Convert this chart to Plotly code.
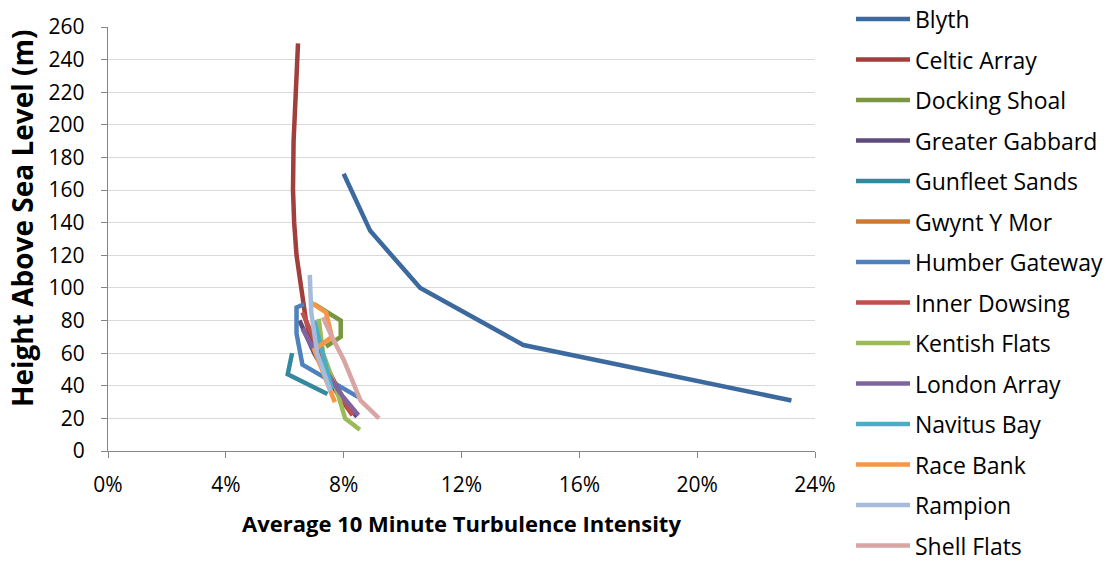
import plotly.graph_objects as go

# Turbulence intensity (fraction) vs height (m) per site
blyth_ti = [0.080, 0.089, 0.106, 0.141, 0.232]
blyth_h = [170, 135, 100, 65, 31]

celtic_ti = [0.0645, 0.0637, 0.0630, 0.0628, 0.0632, 0.0640, 0.0655, 0.0672, 0.0695, 0.0730, 0.0780, 0.0830]
celtic_h = [250, 220, 190, 160, 140, 120, 100, 80, 65, 50, 35, 22]

docking_ti = [0.0700, 0.0790, 0.0790, 0.0740]
docking_h = [90, 80, 70, 64]

gabbard_ti = [0.0650, 0.0700, 0.0770, 0.0845]
gabbard_h = [80, 60, 38, 21]

gunfleet_ti = [0.0625, 0.0610, 0.0745]
gunfleet_h = [60, 47, 35]

gwynt_ti = [0.0690, 0.0740, 0.0800]
gwynt_h = [75, 52, 32]

humber_ti = [0.0665, 0.0640, 0.0640, 0.0660, 0.0850]
humber_h = [90, 88, 72, 53, 33]

inner_ti = [0.0660, 0.0720, 0.0780, 0.0830]
inner_h = [85, 60, 38, 22]

kentish_ti = [0.0715, 0.0730, 0.0780, 0.0805, 0.0855]
kentish_h = [81, 60, 35, 20, 13]

london_ti = [0.0660, 0.0730, 0.0790, 0.0850]
london_h = [75, 52, 35, 22]

navitus_ti = [0.0700, 0.0730, 0.0760]
navitus_h = [80, 58, 38]

race_ti = [0.0690, 0.0740, 0.0760, 0.0700, 0.0770]
race_h = [91, 85, 70, 62, 30]

rampion_ti = [0.0685, 0.0690, 0.0710, 0.0755]
rampion_h = [108, 85, 60, 37]

shell_ti = [0.0730, 0.0760, 0.0800, 0.0857, 0.0920]
shell_h = [82, 70, 56, 31, 20]

series = [
    ("Blyth", blyth_ti, blyth_h, "#3C6A9E"),
    ("Celtic Array", celtic_ti, celtic_h, "#A13F3C"),
    ("Docking Shoal", docking_ti, docking_h, "#7A9740"),
    ("Greater Gabbard", gabbard_ti, gabbard_h, "#604A7B"),
    ("Gunfleet Sands", gunfleet_ti, gunfleet_h, "#35899E"),
    ("Gwynt Y Mor", gwynt_ti, gwynt_h, "#CC7A33"),
    ("Humber Gateway", humber_ti, humber_h, "#4F81BD"),
    ("Inner Dowsing", inner_ti, inner_h, "#C0504D"),
    ("Kentish Flats", kentish_ti, kentish_h, "#9BBB59"),
    ("London Array", london_ti, london_h, "#8064A2"),
    ("Navitus Bay", navitus_ti, navitus_h, "#4BACC6"),
    ("Race Bank", race_ti, race_h, "#F79646"),
    ("Rampion", rampion_ti, rampion_h, "#A7BBDA"),
    ("Shell Flats", shell_ti, shell_h, "#D9A5A2"),
]

FONT = "Open Sans"
W, H = 1110, 561
L, R, T, B = 108, 295, 27, 110
PW, PH = W - L - R, H - T - B


def px2paper_x(px):
    return (px - L) / PW


def px2paper_y(py):
    return (H - B - py) / PH


fig = go.Figure()
shapes, annots = [], []
for i, (name, x, y, c) in enumerate(series):
    fig.add_trace(go.Scatter(
        x=x, y=y, mode="lines", name=name,
        line=dict(color=c, width=4.5),
        showlegend=False,
    ))
    yc = px2paper_y(19 + i * 40.5)
    shapes.append(dict(type="line", xref="paper", yref="paper",
                       x0=px2paper_x(856), x1=px2paper_x(910), y0=yc, y1=yc,
                       line=dict(color=c, width=4.5)))
    annots.append(dict(xref="paper", yref="paper", x=px2paper_x(913), y=yc,
                       xanchor="left", yanchor="middle", showarrow=False,
                       text=name, font=dict(family=FONT, size=23, color="black")))

# y-axis title (placed as in the reference, slightly above the plot centre)
annots.append(dict(xref="paper", yref="paper", x=px2paper_x(22), y=px2paper_y(218),
                   xanchor="center", yanchor="middle", showarrow=False, textangle=-90,
                   text="<b>Height Above Sea Level (m)</b>",
                   font=dict(family=FONT, size=28, color="black")))

fig.update_layout(
    width=W, height=H,
    margin=dict(l=L, r=R, t=T, b=B, autoexpand=False),
    paper_bgcolor="white", plot_bgcolor="white",
    font=dict(family=FONT, size=21, color="black"),
    showlegend=False,
    shapes=shapes, annotations=annots,
    xaxis=dict(
        range=[0, 0.24], dtick=0.04, tick0=0, tickformat=".0%",
        showgrid=False, showline=True, linecolor="#868686", linewidth=1.3,
        ticks="outside", ticklen=6, tickcolor="#868686",
        zeroline=False, ticklabelstandoff=9,
        tickfont=dict(family=FONT, size=21),
        title=dict(text="<b>Average 10 Minute Turbulence Intensity</b>",
                   font=dict(family=FONT, size=22), standoff=19),
    ),
    yaxis=dict(
        range=[0, 260], dtick=20, tick0=0,
        showgrid=True, gridcolor="#D9D9D9", gridwidth=1.3,
        showline=True, linecolor="#868686", linewidth=1.3,
        ticks="outside", ticklen=6, tickcolor="#868686",
        zeroline=False, ticklabelstandoff=12,
        tickfont=dict(family=FONT, size=21),
    ),
)

fig.write_html("out.html")
